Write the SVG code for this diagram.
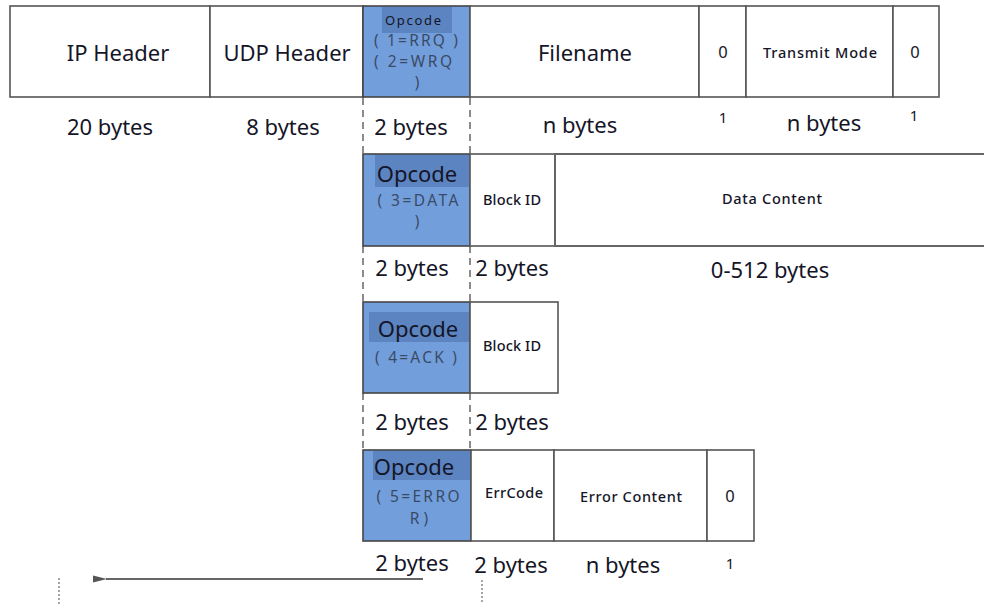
<svg xmlns="http://www.w3.org/2000/svg" width="984" height="604" viewBox="0 0 984 604">
<defs>
<style>
.box{fill:#fff;stroke:#555;stroke-width:1.6}
.op{fill:#729fdb;stroke:#444;stroke-width:1.6}
.hl{fill:#5b84c0}
text{font-family:"Noto Sans","Open Sans","DejaVu Sans",sans-serif;fill:#151528;text-anchor:middle}
.big{font-size:22px}
.lab{font-size:22px}
.sm{font-size:14.5px;font-weight:500}
.one{font-size:15px}
.zero{font-size:16.5px}
.opt{font-size:22px}
.sub{font-size:15.5px;fill:#3a4a66}
.dash{stroke:#666;stroke-width:1.5;stroke-dasharray:7,5;fill:none}
.dot{stroke:#888;stroke-width:1.5;stroke-dasharray:2,2;fill:none}
</style>
<marker id="ah" viewBox="0 0 14 10" refX="1" refY="5" markerWidth="14" markerHeight="10" markerUnits="userSpaceOnUse" orient="auto">
<path d="M14,1.5 L0,5 L14,8.5 Z" fill="#555"/>
</marker>
</defs>
<rect width="984" height="604" fill="#fff"/>

<g id="connectors">
<line class="dash" x1="363" y1="98" x2="363" y2="153"/>
<line class="dash" x1="470" y1="98" x2="470" y2="153"/>
<line class="dash" x1="363" y1="246" x2="363" y2="302"/>
<line class="dash" x1="470" y1="246" x2="470" y2="302"/>
<line class="dash" x1="363" y1="393" x2="363" y2="450"/>
<line class="dash" x1="470" y1="393" x2="470" y2="450"/>
<line x1="423" y1="579" x2="106" y2="579" stroke="#666" stroke-width="2" marker-end="url(#ah)"/>
<line class="dot" x1="59" y1="578" x2="59" y2="604"/>
<line class="dot" x1="482" y1="580" x2="482" y2="604"/>
</g>

<g id="ip-header">
<rect class="box" x="10" y="6" width="200" height="91"/>
<text class="big" x="118" y="61">IP Header</text>
<text class="lab" x="110" y="135">20 bytes</text>
</g>
<g id="udp-header">
<rect class="box" x="210" y="6" width="153" height="91"/>
<text class="big" x="287" y="61">UDP Header</text>
<text class="lab" x="283" y="135">8 bytes</text>
</g>
<g id="opcode-rrq-wrq">
<rect class="op" x="363" y="6" width="107" height="91"/>
<rect class="hl" x="382" y="7" width="70" height="26"/>
<text x="413" y="25" font-size="13" textLength="56">Opcode</text>
<text class="sub" x="416" y="46" textLength="84">( 1=RRQ )</text>
<text class="sub" x="413" y="67" textLength="78">( 2=WRQ</text>
<text class="sub" x="417" y="88">)</text>
<text class="lab" x="411" y="135">2 bytes</text>
</g>
<g id="filename">
<rect class="box" x="470" y="6" width="229" height="91"/>
<text class="big" x="585" y="61">Filename</text>
<text class="lab" x="580" y="133">n bytes</text>
</g>
<g id="zero-1">
<rect class="box" x="699" y="6" width="47" height="91"/>
<text class="zero" x="723" y="58">0</text>
<text class="one" x="723" y="123">1</text>
</g>
<g id="transmit-mode">
<rect class="box" x="746" y="6" width="147" height="91"/>
<text class="sm" x="820" y="58" textLength="114">Transmit Mode</text>
<text class="lab" x="824" y="131">n bytes</text>
</g>
<g id="zero-2">
<rect class="box" x="893" y="6" width="46" height="91"/>
<text class="zero" x="915" y="58">0</text>
<text class="one" x="914" y="121">1</text>
</g>

<g id="opcode-data">
<rect class="op" x="363" y="154" width="107" height="92"/>
<rect class="hl" x="375" y="155" width="95" height="32"/>
<text class="opt" x="417" y="182">Opcode</text>
<text class="sub" x="418" y="206" textLength="81">( 3=DATA</text>
<text class="sub" x="417" y="227">)</text>
<text class="lab" x="412" y="276">2 bytes</text>
</g>
<g id="block-id-data">
<rect class="box" x="470" y="154" width="85" height="92"/>
<text class="sm" x="512" y="205" textLength="58">Block ID</text>
<text class="lab" x="512" y="276">2 bytes</text>
</g>
<g id="data-content">
<path d="M984,154 H555 V246 H984" fill="#fff" stroke="#666" stroke-width="2"/>
<text class="sm" x="772" y="204" textLength="100">Data Content</text>
<text class="lab" x="770" y="278">0-512 bytes</text>
</g>

<g id="opcode-ack">
<rect class="op" x="363" y="302" width="107" height="91"/>
<rect class="hl" x="369" y="312" width="100" height="30"/>
<text class="opt" x="418" y="337">Opcode</text>
<text class="sub" x="416" y="363" textLength="82">( 4=ACK )</text>
<text class="lab" x="412" y="430">2 bytes</text>
</g>
<g id="block-id-ack">
<rect class="box" x="470" y="302" width="88" height="91"/>
<text class="sm" x="512" y="351" textLength="58">Block ID</text>
<text class="lab" x="512" y="430">2 bytes</text>
</g>

<g id="opcode-error">
<rect class="op" x="363" y="450" width="108" height="91"/>
<rect class="hl" x="373" y="451" width="97" height="29"/>
<text class="opt" x="414" y="475">Opcode</text>
<text class="sub" x="418" y="502" textLength="83">( 5=ERRO</text>
<text class="sub" x="419" y="524">R )</text>
<text class="lab" x="412" y="571">2 bytes</text>
</g>
<g id="errcode">
<rect class="box" x="471" y="450" width="83" height="91"/>
<text class="sm" x="514" y="498" textLength="58">ErrCode</text>
<text class="lab" x="511" y="573">2 bytes</text>
</g>
<g id="error-content">
<rect class="box" x="554" y="450" width="153" height="91"/>
<text class="sm" x="631" y="502" textLength="102">Error Content</text>
<text class="lab" x="623" y="573">n bytes</text>
</g>
<g id="zero-3">
<rect class="box" x="707" y="450" width="47" height="91"/>
<text class="zero" x="730" y="502">0</text>
<text class="one" x="730" y="569">1</text>
</g>
</svg>
